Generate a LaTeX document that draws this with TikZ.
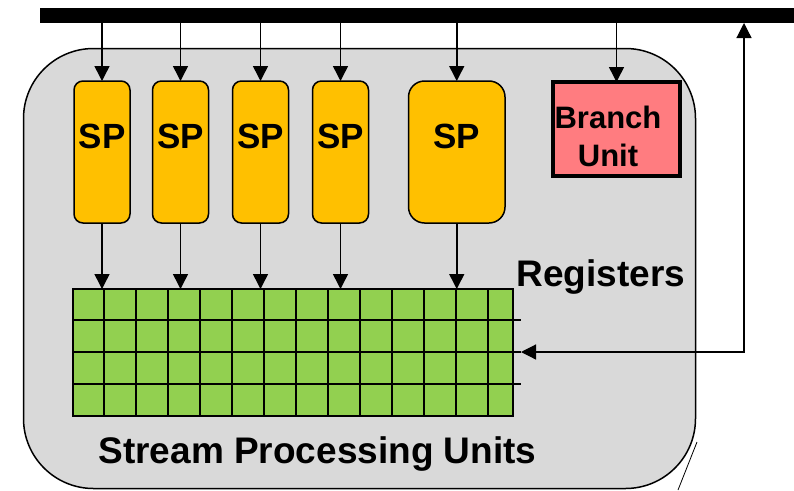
\documentclass[tikz,border=0pt]{standalone}
\usepackage{fontspec}
\setmainfont{Liberation Sans}
\usetikzlibrary{arrows.meta,positioning}
\definecolor{coregray}{HTML}{D9D9D9}
\definecolor{spgold}{HTML}{FFC000}
\definecolor{branchred}{HTML}{FF7C80}
\definecolor{reggreen}{HTML}{92D050}

\begin{document}
\begin{tikzpicture}[
    x=1pt, y=-1pt,
    every node/.style={inner sep=0pt, outer sep=0pt},
    >={Triangle[length=15pt,width=15pt]},
    core/.style={draw, line width=1.5pt, fill=coregray, rounded corners=70pt, minimum width=672pt, minimum height=440pt},
    busbar/.style={fill=black, minimum width=754pt, minimum height=15pt},
    spbox/.style={draw, line width=1.5pt, fill=spgold, rounded corners=9pt, minimum width=56pt, minimum height=142pt, font=\fontsize{35}{40}\selectfont\bfseries, text height=25pt, text depth=33pt},
    widesp/.style={spbox, minimum width=96.5pt, rounded corners=16pt},
    branchbox/.style={draw, line width=3.5pt, fill=branchred, minimum width=127pt, minimum height=94pt},
    regcells/.style={draw, line width=2pt, fill=reggreen, minimum width=440pt, minimum height=127pt},
    caption/.style={font=\fontsize{37}{42}\selectfont\bfseries},
    arrow/.style={->, line width=1.5pt}
]
\useasboundingbox (0,0) rectangle (794,490);

% SM outline
\node[core] (sm) at (359.5,268.5) {};
\draw[line width=0.8pt] (697,442) -- (678,490);

% Bus
\node[busbar] (bus) at (417,15.5) {};

% Stream processors
\node[spbox] (sp1) at (102,152) {SP};
\node[spbox, right=22.5pt of sp1] (sp2) {SP};
\node[spbox, right=24pt of sp2] (sp3) {SP};
\node[spbox, right=24pt of sp3] (sp4) {SP};
\node[widesp, right=40pt of sp4] (sp5) {SP};

% Branch unit
\node[branchbox] (branch) at (616.5,129) {};
\node[font=\fontsize{31}{38}\selectfont\bfseries, align=center] (branchtxt) at (608,136) {Branch\\Unit};

% Register file
\node[regcells] (regs) at (293,352.5) {};
\foreach \gx in {104,136,...,488}
    \draw[line width=1.5pt] (\gx,288) -- (\gx,417);
\foreach \gy in {320,352,384}
    \draw[line width=1.5pt] (72,\gy) -- (521,\gy);

\node[caption, anchor=base] (reglabel) at (601,286) {Registers};
\node[caption, anchor=base] (smlabel) at (317.5,463) {Stream Processing Units};

% Arrows
\foreach \sp in {sp1,sp2,sp3,sp4,sp5} {
    \draw[arrow] (bus.south -| \sp.north) -- (\sp.north);
    \draw[arrow] (\sp.south) -- (\sp.south |- regs.north);
}
\draw[arrow] (bus.south -| branch.north) -- (branch.north);

\coordinate (tap) at (521,352);
\coordinate (riser) at (744,352);
\draw[<->, line width=1.2pt] (tap) -- (riser) -- (riser |- bus.south);

\end{tikzpicture}
\end{document}
